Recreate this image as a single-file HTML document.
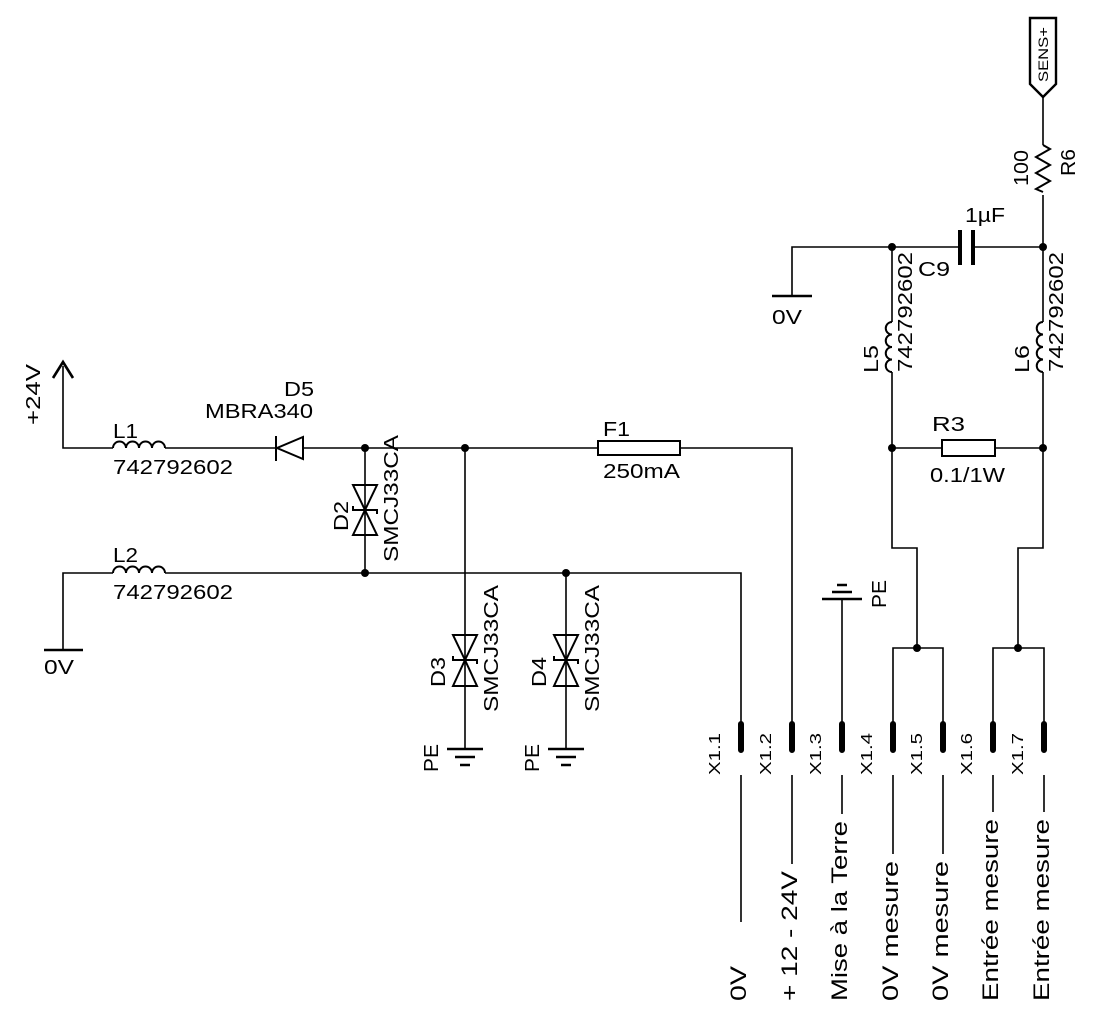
<!DOCTYPE html>
<html><head><meta charset="utf-8"><style>
html,body{margin:0;padding:0;background:#fff;}
svg{display:block;}
text{font-family:"Liberation Sans",sans-serif;fill:#000;}
</style></head><body>
<svg width="1116" height="1024" viewBox="0 0 1116 1024" xmlns="http://www.w3.org/2000/svg">
<g stroke="#000" stroke-width="1.6" fill="none">
<path d="M63 366 V448 H113 M165 448 H276 M303 448 H598 M680 448 H792 V722"/>
<path d="M53 378 L63 362 L73 378" stroke-width="2.6"/>
<path d="M113 448 a6.5 6.5 0 0 1 13 0 a6.5 6.5 0 0 1 13 0 a6.5 6.5 0 0 1 13 0 a6.5 6.5 0 0 1 13 0" stroke-width="2"/>
<path d="M276 436 V461 M303 437 V459 L277 448 Z" stroke-width="2"/>
<rect x="598" y="441" width="82" height="14" stroke-width="2"/>
<path d="M63 650 V573 H113 M165 573 H741 V722"/>
<path d="M44 650 H83" stroke-width="2.6"/>
<path d="M113 573 a6.5 6.5 0 0 1 13 0 a6.5 6.5 0 0 1 13 0 a6.5 6.5 0 0 1 13 0 a6.5 6.5 0 0 1 13 0" stroke-width="2"/>
<path d="M365 448 V573"/>
<path d="M353 485 H377 L365 510 Z M353 535 H377 L365 510 Z M353 506 V510 H377 V514" stroke-width="2"/>
<path d="M465 448 V749"/>
<path d="M453 635 H477 L465 660 Z M453 686 H477 L465 660 Z M453 656 V660 H477 V664" stroke-width="2"/>
<path d="M447 749 H483 M455 757 H475 M460 765 H470" stroke-width="2.6"/>
<path d="M566 573 V749"/>
<path d="M554 635 H578 L566 660 Z M554 686 H578 L566 660 Z M554 656 V660 H578 V664" stroke-width="2"/>
<path d="M548 749 H584 M556 757 H576 M561 765 H571" stroke-width="2.6"/>
<path d="M842 599 V722"/>
<path d="M822 599 H862 M832 592 H852 M837 585 H847" stroke-width="2.6"/>
<path d="M792 296 V247 H960 M973 247 H1043"/>
<path d="M772 296 H812" stroke-width="2.6"/>
<path d="M960 230 V265 M973 230 V265" stroke-width="4"/>
<path d="M1043 97 V145 M1043 195 V322 M1043 372 V548 H1018 V648 M993 722 V648 H1044 V722"/>
<path d="M1043 145 l7 4 l-14 8 l14 8 l-14 8 l14 8 l-14 8 l7 3" stroke-width="2"/>
<path d="M892 247 V322 M892 372 V548 H917 V648 M893 722 V648 H943 V722"/>
<path d="M892 448 H942 M995 448 H1043"/>
<rect x="942" y="440" width="53" height="16" stroke-width="2"/>
<path d="M892 322 a6.25 6.25 0 0 0 0 12.5 a6.25 6.25 0 0 0 0 12.5 a6.25 6.25 0 0 0 0 12.5 a6.25 6.25 0 0 0 0 12.5" stroke-width="2"/>
<path d="M1043 322 a6.25 6.25 0 0 0 0 12.5 a6.25 6.25 0 0 0 0 12.5 a6.25 6.25 0 0 0 0 12.5 a6.25 6.25 0 0 0 0 12.5" stroke-width="2"/>
<path d="M1030 18 H1056 V84 L1043 97 L1030 84 Z" stroke-width="2.4"/>
<g stroke-width="6" stroke-linecap="round">
<path d="M741 724 V750 M792 724 V750 M842 724 V750 M893 724 V750 M943 724 V750 M993 724 V750 M1044 724 V750"/>
</g>
<path d="M741 775 V922 M792 775 V864 M842 775 V814 M893 775 V854 M943 775 V854 M993 775 V812 M1044 775 V812"/>
</g>
<g fill="#000">
<circle cx="365" cy="448" r="4"/><circle cx="465" cy="448" r="4"/>
<circle cx="365" cy="573" r="4"/><circle cx="566" cy="573" r="4"/>
<circle cx="892" cy="247" r="4"/><circle cx="1043" cy="247" r="4"/>
<circle cx="892" cy="448" r="4"/><circle cx="1043" cy="448" r="4"/>
<circle cx="917" cy="648" r="4"/><circle cx="1018" cy="648" r="4"/>
</g>
<g font-size="20">
<text x="113" y="438" textLength="25" lengthAdjust="spacingAndGlyphs">L1</text>
<text x="113" y="474" textLength="120" lengthAdjust="spacingAndGlyphs">742792602</text>
<text x="113" y="562" textLength="25" lengthAdjust="spacingAndGlyphs">L2</text>
<text x="113" y="599" textLength="120" lengthAdjust="spacingAndGlyphs">742792602</text>
<text x="44" y="674" textLength="30" lengthAdjust="spacingAndGlyphs">0V</text>
<text x="284" y="396" textLength="30" lengthAdjust="spacingAndGlyphs">D5</text>
<text x="205" y="418" textLength="108" lengthAdjust="spacingAndGlyphs">MBRA340</text>
<text x="603" y="436" textLength="27" lengthAdjust="spacingAndGlyphs">F1</text>
<text x="603" y="478" textLength="77" lengthAdjust="spacingAndGlyphs">250mA</text>
<text x="772" y="324" textLength="30" lengthAdjust="spacingAndGlyphs">0V</text>
<text x="932" y="431" textLength="33" lengthAdjust="spacingAndGlyphs">R3</text>
<text x="930" y="482" textLength="75" lengthAdjust="spacingAndGlyphs">0.1/1W</text>
<text x="965" y="222" textLength="40" lengthAdjust="spacingAndGlyphs">1µF</text>
<text x="918" y="276" textLength="32" lengthAdjust="spacingAndGlyphs">C9</text>
<text transform="translate(40,425) rotate(-90)" textLength="61" lengthAdjust="spacingAndGlyphs">+24V</text>
<text transform="translate(348,531) rotate(-90)" textLength="30" lengthAdjust="spacingAndGlyphs">D2</text>
<text transform="translate(398,562) rotate(-90)" textLength="127" lengthAdjust="spacingAndGlyphs">SMCJ33CA</text>
<text transform="translate(445,687) rotate(-90)" textLength="30" lengthAdjust="spacingAndGlyphs">D3</text>
<text transform="translate(498,712) rotate(-90)" textLength="127" lengthAdjust="spacingAndGlyphs">SMCJ33CA</text>
<text transform="translate(546,687) rotate(-90)" textLength="30" lengthAdjust="spacingAndGlyphs">D4</text>
<text transform="translate(599,712) rotate(-90)" textLength="127" lengthAdjust="spacingAndGlyphs">SMCJ33CA</text>
<text transform="translate(438,772) rotate(-90)" textLength="28" lengthAdjust="spacingAndGlyphs">PE</text>
<text transform="translate(539,772) rotate(-90)" textLength="28" lengthAdjust="spacingAndGlyphs">PE</text>
<text transform="translate(886,608) rotate(-90)" textLength="28" lengthAdjust="spacingAndGlyphs">PE</text>
<text transform="translate(878,373) rotate(-90)" textLength="28" lengthAdjust="spacingAndGlyphs">L5</text>
<text transform="translate(912,372) rotate(-90)" textLength="120" lengthAdjust="spacingAndGlyphs">742792602</text>
<text transform="translate(1029,373) rotate(-90)" textLength="28" lengthAdjust="spacingAndGlyphs">L6</text>
<text transform="translate(1063,372) rotate(-90)" textLength="120" lengthAdjust="spacingAndGlyphs">742792602</text>
<text transform="translate(1028,186) rotate(-90)" textLength="36" lengthAdjust="spacingAndGlyphs">100</text>
<text transform="translate(1075,176) rotate(-90)" textLength="27" lengthAdjust="spacingAndGlyphs">R6</text>
</g>
<text transform="translate(1048,82) rotate(-90)" font-size="14" textLength="55" lengthAdjust="spacingAndGlyphs">SENS+</text>
<g font-size="16" fill="#222">
<text transform="translate(720,775) rotate(-90)" textLength="42" lengthAdjust="spacingAndGlyphs">X1.1</text>
<text transform="translate(771,775) rotate(-90)" textLength="42" lengthAdjust="spacingAndGlyphs">X1.2</text>
<text transform="translate(821,775) rotate(-90)" textLength="42" lengthAdjust="spacingAndGlyphs">X1.3</text>
<text transform="translate(872,775) rotate(-90)" textLength="42" lengthAdjust="spacingAndGlyphs">X1.4</text>
<text transform="translate(922,775) rotate(-90)" textLength="42" lengthAdjust="spacingAndGlyphs">X1.5</text>
<text transform="translate(972,775) rotate(-90)" textLength="42" lengthAdjust="spacingAndGlyphs">X1.6</text>
<text transform="translate(1023,775) rotate(-90)" textLength="42" lengthAdjust="spacingAndGlyphs">X1.7</text>
</g>
<g font-size="22">
<text transform="translate(746,1001) rotate(-90)" textLength="35" lengthAdjust="spacingAndGlyphs">0V</text>
<text transform="translate(797,1001) rotate(-90)" textLength="130" lengthAdjust="spacingAndGlyphs">+ 12 - 24V</text>
<text transform="translate(847,1001) rotate(-90)" textLength="180" lengthAdjust="spacingAndGlyphs">Mise à la Terre</text>
<text transform="translate(898,1001) rotate(-90)" textLength="140" lengthAdjust="spacingAndGlyphs">0V mesure</text>
<text transform="translate(948,1001) rotate(-90)" textLength="140" lengthAdjust="spacingAndGlyphs">0V mesure</text>
<text transform="translate(998,1001) rotate(-90)" textLength="182" lengthAdjust="spacingAndGlyphs">Entrée mesure</text>
<text transform="translate(1049,1001) rotate(-90)" textLength="182" lengthAdjust="spacingAndGlyphs">Entrée mesure</text>
</g>
</svg>
</body></html>
